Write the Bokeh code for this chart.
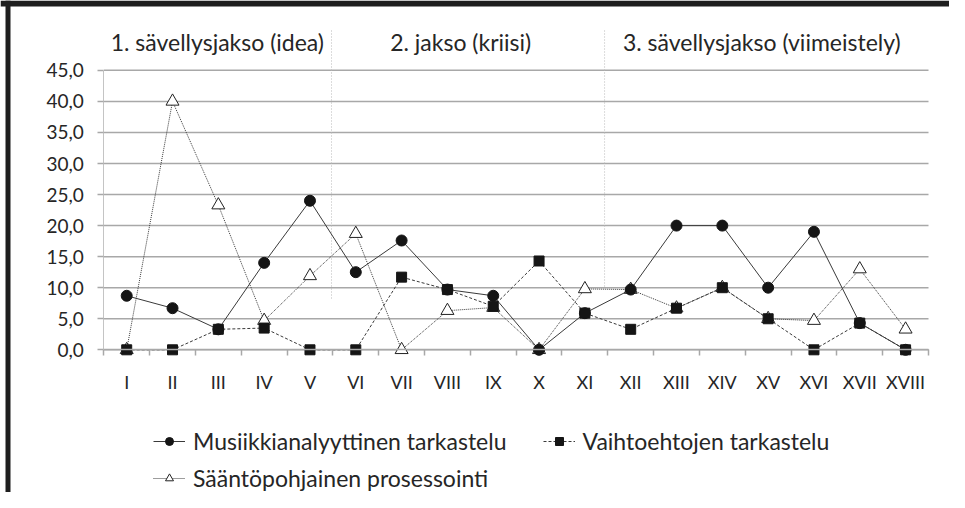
from bokeh.plotting import figure
from bokeh.models import (Range1d, LinearAxis, FixedTicker, Legend, LegendItem,
                          Label, ColumnDataSource)
from bokeh.embed import file_html
from bokeh.resources import INLINE

# ---- data ----
categories = ["I", "II", "III", "IV", "V", "VI", "VII", "VIII", "IX", "X",
              "XI", "XII", "XIII", "XIV", "XV", "XVI", "XVII", "XVIII"]
musiikki = [8.7, 6.7, 3.3, 14.0, 24.0, 12.5, 17.6, 9.7, 8.7, 0.0,
            5.9, 9.7, 20.0, 20.0, 10.0, 19.0, 4.3, 0.0]
vaihto = [0.0, 0.0, 3.3, 3.5, 0.0, 0.0, 11.7, 9.7, 7.0, 14.3,
          5.9, 3.3, 6.7, 10.0, 5.0, 0.0, 4.3, 0.0]
saanto = [0.0, 40.0, 23.3, 4.7, 11.9, 18.7, 0.0, 6.3, 6.8, 0.0,
          9.8, 9.7, 6.7, 10.0, 5.0, 4.7, 13.0, 3.3]
series_names = ["Musiikkianalyyttinen tarkastelu", "Vaihtoehtojen tarkastelu",
                "Sääntöpohjainen prosessointi"]
phase_labels = ["1. sävellysjakso (idea)", "2. jakso (kriisi)",
                "3. sävellysjakso (viimeistely)"]
y_ticks = [0, 5, 10, 15, 20, 25, 30, 35, 40, 45]
y_tick_labels = ["0,0", "5,0", "10,0", "15,0", "20,0", "25,0", "30,0", "35,0", "40,0", "45,0"]

FONT = "Lato"
TXT = "#262626"
W, H = 949, 492

# layout geometry (pixels) -> ranges
AX_L, AX_R = 103.3, 928.0      # x pixel of category axis ends
Y0_PX, PX_PER_Y = 349.3, 6.21  # pixel row of value 0, pixels per unit
PX_PER_X = (AX_R - AX_L) / 18.0
x_start = 0.5 - AX_L / PX_PER_X
x_end = 18.5 + (W - AX_R) / PX_PER_X
y_end = Y0_PX / PX_PER_Y
y_start = -(H - Y0_PX) / PX_PER_Y

def px_x(px):
    return x_start + px / PX_PER_X

def px_y(py):
    return (Y0_PX - py) / PX_PER_Y

xs = list(range(1, len(categories) + 1))
src = ColumnDataSource(dict(x=xs, m=musiikki, v=vaihto, s=saanto))

p = figure(width=W, height=H,
           x_range=Range1d(x_start, x_end), y_range=Range1d(y_start, y_end),
           x_axis_type=None, y_axis_type=None,
           output_backend="svg", toolbar_location=None,
           min_border_left=0, min_border_right=0,
           min_border_top=0, min_border_bottom=0)
p.outline_line_color = None
p.background_fill_color = "white"

# frame decoration (scanned border)
p.quad(left=[px_x(0), px_x(5)], right=[px_x(W), px_x(10)],
       top=[px_y(0), px_y(0)], bottom=[px_y(6), px_y(H)],
       fill_color="#1e1e1e", line_color=None)

# horizontal gridlines at the y ticks
p.segment(x0=[0.5] * len(y_ticks), x1=[18.5] * len(y_ticks), y0=y_ticks, y1=y_ticks,
          line_color="#a8a8a8", line_width=1.5)

# y axis
yax = LinearAxis(ticker=FixedTicker(ticks=y_ticks), bounds=(0, 45), fixed_location=0.5)
yax.major_label_overrides = {t: l for t, l in zip(y_ticks, y_tick_labels)}
yax.axis_line_color = "#c4c4c4"
yax.axis_line_width = 1
yax.major_tick_line_color = "#a8a8a8"
yax.major_tick_line_width = 1.5
yax.major_tick_in = 0
yax.major_tick_out = 6
yax.minor_tick_line_color = None
yax.major_label_standoff = 14
yax.major_label_text_font = FONT
yax.major_label_text_font_size = "19px"
yax.major_label_text_color = TXT
p.add_layout(yax, "left")

# x axis: tick marks at category boundaries
xb = LinearAxis(ticker=FixedTicker(ticks=[i + 0.5 for i in range(0, 19)]),
                fixed_location=0, bounds=(0.5, 18.5))
xb.axis_line_color = "#a8a8a8"
xb.axis_line_width = 1.5
xb.major_tick_line_color = "#a8a8a8"
xb.major_tick_line_width = 1.5
xb.major_tick_in = 0
xb.major_tick_out = 6
xb.minor_tick_line_color = None
xb.major_label_text_alpha = 0
xb.major_label_text_font_size = "1px"
p.add_layout(xb, "below")

# x axis: category labels
xl = LinearAxis(ticker=FixedTicker(ticks=xs), fixed_location=0)
xl.major_label_overrides = {x: c for x, c in zip(xs, categories)}
xl.axis_line_color = None
xl.major_tick_line_color = None
xl.major_tick_in = 0
xl.major_tick_out = 0
xl.minor_tick_line_color = None
xl.major_label_standoff = 21
xl.major_label_text_font = FONT
xl.major_label_text_font_size = "18px"
xl.major_label_text_color = TXT
p.add_layout(xl, "below")

# phase separators and headers
p.segment(x0=[5.47, 11.43], y0=[px_y(30), px_y(30)], x1=[5.47, 11.43],
          y1=[px_y(300), px_y(288)],
          line_color="#b8b8b8", line_width=1, line_dash="1 2")
for lx, lab in zip([0.65, 6.75, 11.83], phase_labels):
    p.add_layout(Label(x=lx, y=px_y(41), text=lab, text_font=FONT,
                       text_font_size="23px", text_color=TXT,
                       text_baseline="middle", text_align="left"))

# series
LC = "#3a3a3a"
l3 = p.line("x", "s", source=src, line_color=LC, line_width=1, line_dash="1 1")
s3 = p.scatter("x", "s", source=src, marker="triangle", size=13,
               fill_color="white", line_color="#222222", line_width=1)
l1 = p.line("x", "m", source=src, line_color=LC, line_width=1)
s1 = p.scatter("x", "m", source=src, marker="circle", size=11,
               fill_color="#151515", line_color="#151515")
l2 = p.line("x", "v", source=src, line_color=LC, line_width=1, line_dash="3 2")
s2 = p.scatter("x", "v", source=src, marker="square", size=10,
               fill_color="#151515", line_color="#151515")

def mk_legend(items, loc):
    return Legend(items=items, location=loc, orientation="horizontal",
                  border_line_color=None, background_fill_alpha=0,
                  margin=0, padding=0, spacing=36,
                  glyph_width=32, glyph_height=20, label_height=20,
                  label_standoff=8, label_text_font=FONT,
                  label_text_font_size="23px", label_text_color=TXT)

leg1 = mk_legend([LegendItem(label=series_names[0], renderers=[l1, s1]),
                  LegendItem(label=series_names[1], renderers=[l2, s2])], (153, 37))
leg2 = mk_legend([LegendItem(label=series_names[2], renderers=[l3, s3])], (153, 0))
p.add_layout(leg1)
p.add_layout(leg2)

open("out.html", "w").write(file_html(p, INLINE))
